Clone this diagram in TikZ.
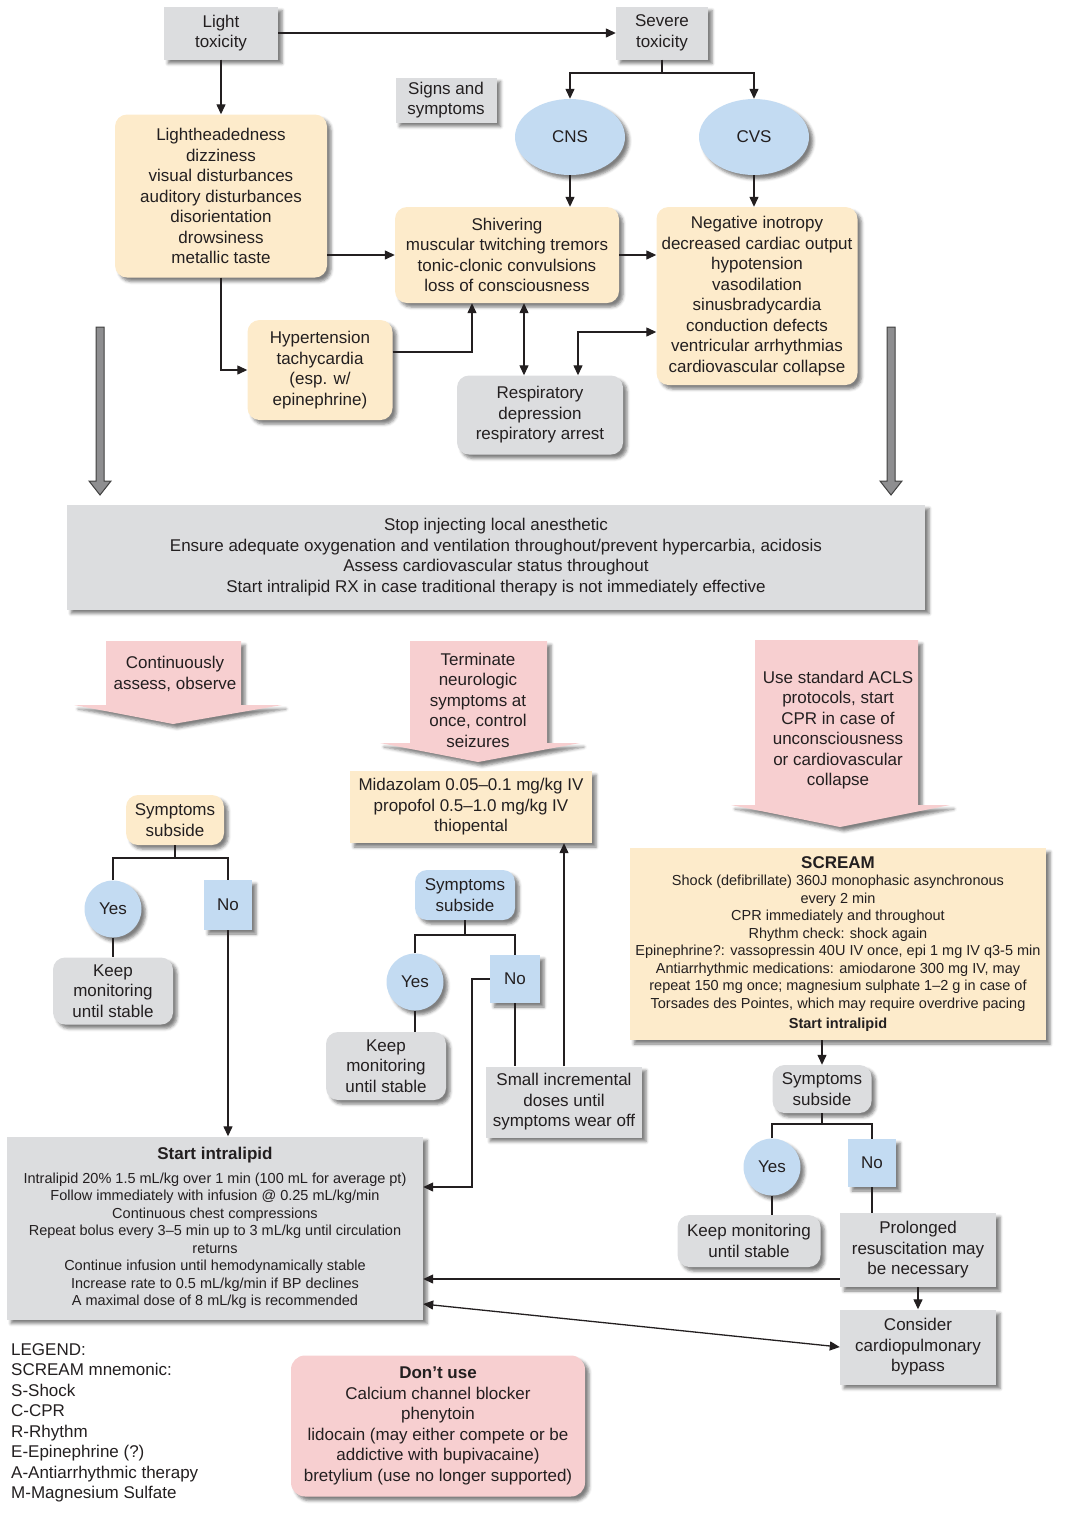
\documentclass[tikz,border=0pt]{standalone}
\usepackage{fontspec}
\setmainfont{Liberation Sans}
\usetikzlibrary{arrows.meta,shapes.geometric,shadows.blur}
\definecolor{boxgray}{HTML}{DCDDDF}
\definecolor{boxyellow}{HTML}{FDEBCB}
\definecolor{boxblue}{HTML}{C3DBF2}
\definecolor{boxpink}{HTML}{F7CFD0}
\definecolor{ink}{HTML}{231F20}
\definecolor{bigarrow}{HTML}{8E8E90}

\begin{document}
\begin{tikzpicture}[x=1pt, y=-1pt, >={Triangle[length=10pt,width=9pt]}, font=\fontsize{17}{20.5}\selectfont, text=ink]
    \tikzstyle{shade_style} = [blur shadow={shadow xshift=4pt,shadow yshift=-4pt,shadow blur radius=3pt,shadow opacity=50}]
    \tikzstyle{box_style} = [rectangle, align=center, inner sep=2pt, shade_style]
    \tikzstyle{gray_box} = [box_style, fill=boxgray]
    \tikzstyle{gray_round} = [box_style, fill=boxgray, rounded corners=12pt]
    \tikzstyle{yellow_box} = [box_style, fill=boxyellow]
    \tikzstyle{yellow_round} = [box_style, fill=boxyellow, rounded corners=12pt]
    \tikzstyle{blue_box} = [box_style, fill=boxblue]
    \tikzstyle{blue_round} = [box_style, fill=boxblue, rounded corners=12pt]
    \tikzstyle{blue_oval} = [ellipse, fill=boxblue, inner sep=2pt, shade_style]
    \tikzstyle{blue_circle} = [circle, fill=boxblue, inner sep=1pt, minimum size=57pt, shade_style]
    \tikzstyle{pink_round} = [box_style, fill=boxpink, rounded corners=14pt]
    \tikzstyle{funnel_style} = [fill=boxpink, shade_style]
    \tikzstyle{funnel_text} = [align=center, inner sep=0pt]
    \tikzstyle{small_text} = [font=\fontsize{14.5}{17.5}\selectfont]
    \tikzstyle{edge_style} = [draw=ink, line width=1.3pt]
    \tikzstyle{big_arrow} = [fill=bigarrow, draw=black!75, line width=1pt]

    \useasboundingbox (0,0) rectangle (1068,1519);

    \node[gray_box, minimum width=114pt, minimum height=53pt] (light) at (221,33) {Light\\toxicity};
    \node[gray_box, minimum width=92pt, minimum height=53pt] (severe) at (662,33) {Severe\\toxicity};
    \node[gray_box, minimum width=101pt, minimum height=45pt] (signs) at (446,100) {Signs and\\symptoms};
    \node[blue_oval, minimum width=110pt, minimum height=76pt] (cns) at (570,137) {CNS};
    \node[blue_oval, minimum width=110pt, minimum height=76pt] (cvs) at (754,137) {CVS};
    \node[yellow_round, minimum width=212pt, minimum height=163pt] (mild) at (221,196) {Lightheadedness\\dizziness\\visual disturbances\\auditory disturbances\\disorientation\\drowsiness\\metallic taste};
    \node[yellow_round, minimum width=224pt, minimum height=96pt] (seizure) at (507,255) {Shivering\\muscular twitching tremors\\tonic-clonic convulsions\\loss of consciousness};
    \node[yellow_round, minimum width=201pt, minimum height=178pt] (cardio) at (757,296) {Negative inotropy\\decreased cardiac output\\hypotension\\vasodilation\\sinusbradycardia\\conduction defects\\ventricular arrhythmias\\cardiovascular collapse};
    \node[yellow_round, minimum width=145pt, minimum height=100pt] (hyper) at (320,370) {Hypertension\\tachycardia\\(esp. w/\\epinephrine)};
    \node[gray_round, minimum width=166pt, minimum height=79pt] (resp) at (540,415) {Respiratory\\depression\\respiratory arrest};

    \draw[edge_style, ->] (light.east) -- (severe.west);
    \draw[edge_style] (severe.south) -- (severe.south |- 0,73);
    \draw[edge_style, <->] (cns.north) |- (cvs.north |- 0,73) -- (cvs.north);
    \draw[edge_style, ->] (light.south) -- (mild.north);
    \draw[edge_style, ->] (cns.south) -- (cns.south |- seizure.north);
    \draw[edge_style, ->] (cvs.south) -- (cvs.south |- cardio.north);
    \draw[edge_style, ->] (mild.east |- seizure.west) -- (seizure.west);
    \draw[edge_style, ->] (seizure.east) -- (cardio.west |- seizure.east);
    \draw[edge_style, ->] (mild.south) |- (hyper.west);
    \draw[edge_style, ->] ([yshift=18pt]hyper.east) -| ([xshift=-35pt]seizure.south);
    \draw[edge_style, <->] ([xshift=17pt]seizure.south) -- ([xshift=-16pt]resp.north);
    \draw[edge_style, <->] ([xshift=38pt]resp.north) |- ([yshift=-36pt]cardio.west);

    \filldraw[big_arrow] (96,327) -- (104,327) -- (104,481) -- (111,481) -- (100,495) -- (89,481) -- (96,481) -- cycle;
    \filldraw[big_arrow] (887,327) -- (895,327) -- (895,481) -- (902,481) -- (891,495) -- (880,481) -- (887,481) -- cycle;

    \node[gray_box, minimum width=858pt, minimum height=105pt] (stop) at (496,557) {Stop injecting local anesthetic\\Ensure adequate oxygenation and ventilation throughout/prevent hypercarbia, acidosis\\Assess cardiovascular status throughout\\Start intralipid RX in case traditional therapy is not immediately effective};

    \filldraw[funnel_style, draw=none] (106,641) -- (241,641) -- (241,705) -- (282,705) -- (173,724) -- (74,705) -- (106,705) -- cycle;
    \filldraw[funnel_style, draw=none] (410,641) -- (547,641) -- (547,743) -- (580,743) -- (478,762) -- (380,743) -- (410,743) -- cycle;
    \filldraw[funnel_style, draw=none] (755,640) -- (918,640) -- (918,805) -- (950,805) -- (840,827) -- (731,805) -- (755,805) -- cycle;
    \node[funnel_text] (assess) at (175,674) {Continuously\\assess, observe};
    \node[funnel_text] (terminate) at (478,700) {Terminate\\neurologic\\symptoms at\\once, control\\seizures};
    \node[funnel_text] (acls) at (838,730) {Use standard ACLS\\protocols, start\\CPR in case of\\unconsciousness\\or cardiovascular\\collapse};

    \node[yellow_box, minimum width=242pt, minimum height=72pt] (drugs) at (471,807) {Midazolam 0.05–0.1 mg/kg IV\\propofol 0.5–1.0 mg/kg IV\\thiopental};

    \node[yellow_round, minimum width=98pt, minimum height=50pt] (subL) at (175,820) {Symptoms\\subside};
    \node[blue_circle] (yesL) at (113,909) {Yes};
    \node[blue_box, minimum width=48pt, minimum height=50pt] (noL) at (228,905) {No};
    \node[gray_round, minimum width=120pt, minimum height=67pt] (keepL) at (113,991) {Keep\\monitoring\\until stable};

    \node[blue_round, minimum width=100pt, minimum height=50pt] (subM) at (465,895) {Symptoms\\subside};
    \node[blue_circle] (yesM) at (415,982) {Yes};
    \node[blue_box, minimum width=50pt, minimum height=48pt] (noM) at (515,979) {No};
    \node[gray_round, minimum width=120pt, minimum height=68pt] (keepM) at (386,1066) {Keep\\monitoring\\until stable};
    \node[gray_box, minimum width=156pt, minimum height=71pt] (doses) at (564,1102) {Small incremental\\doses until\\symptoms wear off};

    \node[gray_box, small_text, minimum width=416pt, minimum height=183pt] (lipid) at (215,1228) {{\fontsize{17}{20}\selectfont\bfseries Start intralipid}\\[6pt]Intralipid 20\% 1.5 mL/kg over 1 min (100 mL for average pt)\\Follow immediately with infusion @ 0.25 mL/kg/min\\Continuous chest compressions\\Repeat bolus every 3–5 min up to 3 mL/kg until circulation\\returns\\Continue infusion until hemodynamically stable\\Increase rate to 0.5 mL/kg/min if BP declines\\A maximal dose of 8 mL/kg is recommended};

    \node[yellow_box, small_text, minimum width=416pt, minimum height=192pt] (scream) at (838,944) {{\fontsize{17}{20}\selectfont\bfseries SCREAM}\\Shock (defibrillate) 360J monophasic asynchronous\\every 2 min\\CPR immediately and throughout\\Rhythm check: shock again\\Epinephrine?: vassopressin 40U IV once, epi 1 mg IV q3-5 min\\Antiarrhythmic medications: amiodarone 300 mg IV, may\\repeat 150 mg once; magnesium sulphate 1–2 g in case of\\Torsades des Pointes, which may require overdrive pacing\\[3pt]\textbf{Start intralipid}};

    \node[gray_round, minimum width=99pt, minimum height=48pt] (subR) at (822,1089) {Symptoms\\subside};
    \node[blue_circle] (yesR) at (772,1167) {Yes};
    \node[blue_box, minimum width=48pt, minimum height=48pt] (noR) at (872,1163) {No};
    \node[gray_round, minimum width=143pt, minimum height=52pt] (keepR) at (749,1241) {Keep monitoring\\until stable};
    \node[gray_box, minimum width=156pt, minimum height=74pt] (prolonged) at (918,1250) {Prolonged\\resuscitation may\\be necessary};
    \node[gray_box, minimum width=156pt, minimum height=75pt] (bypass) at (918,1347) {Consider\\cardiopulmonary\\bypass};

    \node[align=left, inner sep=0pt, anchor=north west] (legend) at (11,1343) {LEGEND:\\SCREAM mnemonic:\\S-Shock\\C-CPR\\R-Rhythm\\E-Epinephrine (?)\\A-Antiarrhythmic therapy\\M-Magnesium Sulfate};
    \node[pink_round, minimum width=294pt, minimum height=141pt] (dontuse) at (438,1426) {\textbf{Don’t use}\\Calcium channel blocker\\phenytoin\\lidocain (may either compete or be\\addictive with bupivacaine)\\bretylium (use no longer supported)};

    \draw[edge_style] (subL.south) -- (subL.south |- 0,858);
    \draw[edge_style] (yesL.north) |- (noL.north |- 0,858) -- (noL.north);
    \draw[edge_style] (yesL.south) -- (keepL.north);
    \draw[edge_style, ->] (noL.south) -- (noL.south |- lipid.north);

    \draw[edge_style] (subM.south) -- (subM.south |- 0,935);
    \draw[edge_style] (yesM.north) |- (noM.north |- 0,935) -- (noM.north);
    \draw[edge_style] (yesM.south) -- (yesM.south |- keepM.north);
    \draw[edge_style] (noM.south) -- (noM.south |- doses.north);
    \draw[edge_style, ->] (doses.north) -- (doses.north |- drugs.south);
    \draw[edge_style, ->] (noM.west) -- (472,979) |- (lipid.east |- 0,1187);

    \draw[edge_style, ->] (subR.north |- scream.south) -- (subR.north);
    \draw[edge_style] (subR.south) -- (subR.south |- 0,1124);
    \draw[edge_style] (yesR.north) |- (noR.north |- 0,1124) -- (noR.north);
    \draw[edge_style] (yesR.south) -- (yesR.south |- keepR.north);
    \draw[edge_style] (noR.south) -- (noR.south |- prolonged.north);
    \draw[edge_style, ->] (prolonged.south) -- (bypass.north);
    \draw[edge_style, ->] ([yshift=-29pt]prolonged.west) -- (lipid.east |- 0,1279);
    \draw[edge_style, <->] (lipid.east |- 0,1304) -- (bypass.west);
\end{tikzpicture}
\end{document}
